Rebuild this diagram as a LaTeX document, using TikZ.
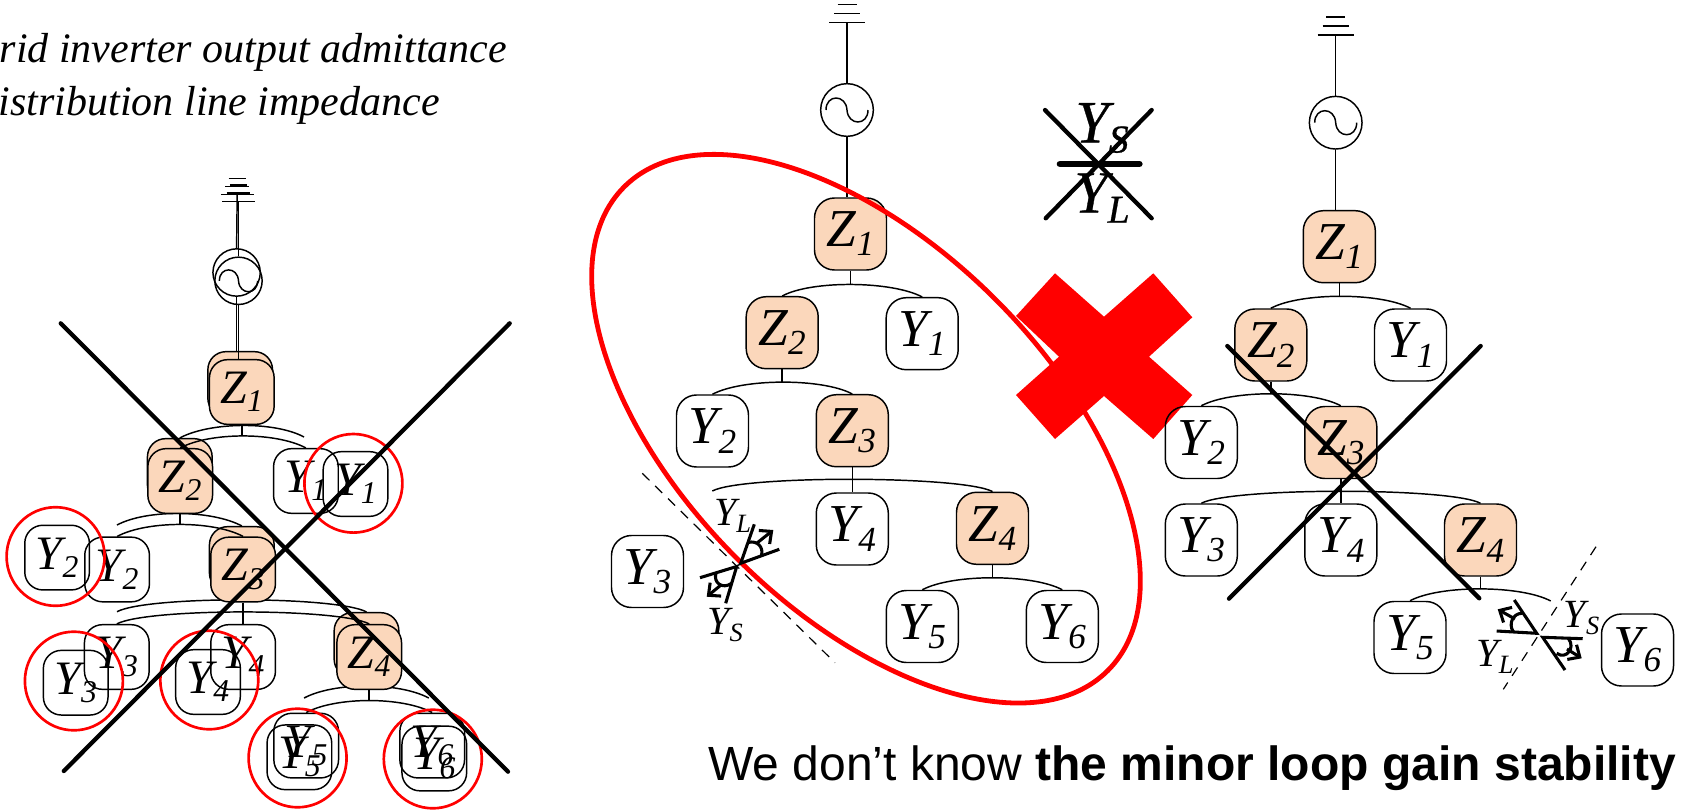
\documentclass[tikz,border=0pt]{standalone}
\usepackage{fontspec}
\setmainfont{Liberation Serif}
\newfontfamily\arialfont{Liberation Sans}
\usetikzlibrary{arrows.meta}
\definecolor{peach}{RGB}{251,215,187}
\definecolor{ringred}{RGB}{255,0,0}
\newcommand{\sbx}[2]{#1\raisebox{-0.17em}{\scalebox{0.66}{#2}}}
\newcommand{\branch}[3]{%
\draw[wire] (#2) .. controls +(30,-16) and +(-30,-16) .. (#3) node[coordinate,midway] (#1m) {};
\draw[wire] (#1.south) -- (#1.south |- #1m);}
\newcommand{\acwave}[2]{%
\begin{scope}[shift={(#1.center)},scale=#2]
\draw[wire] (-21,0) .. controls (-21,-16) and (-1,-16) .. (0,0) .. controls (1,16) and (21,16) .. (21,0);
\end{scope}}
\newcommand{\gnd}[2]{%
\begin{scope}[shift={(#1)},scale=#2]
\draw[wire] (-18,0) -- (18,0);
\draw[wire] (-13,-9) -- (13,-9);
\draw[wire] (-9.5,-18) -- (9.5,-18);
\end{scope}}
\tikzset{
wire/.style={line width=1.1pt},
ybox/.style={draw,line width=1.1pt,rounded corners=15pt,inner sep=0pt,minimum width=54pt,minimum height=54pt,font=\fontsize{40}{40}\selectfont\itshape},
zbox/.style={ybox,fill=peach},
lefttree/.style={minimum width=48.5pt,minimum height=48.5pt,rounded corners=13.5pt,font=\fontsize{36}{36}\selectfont\itshape},
acsrc/.style={draw,wire,circle,inner sep=0pt,minimum size=#1},
crossline/.style={line width=3.2pt,line cap=round},
ring/.style={draw=ringred,line width=2pt},
cutline/.style={line width=.9pt,dash pattern=on 7.5pt off 6pt},
wedge/.style={line width=2.3pt},
tiplabel/.style={font=\fontsize{30}{30}\selectfont\itshape},
headtext/.style={anchor=base east,inner sep=0pt,font=\fontsize{31.5}{31.5}\selectfont\itshape},
biglabel/.style={font=\fontsize{45}{45}\selectfont\itshape\addfontfeatures{FakeBold=0.6}}
}
\begin{document}
\begin{tikzpicture}[x=0.75pt,y=-0.75pt]
\useasboundingbox (0,0) rectangle (1682,811);
\node[headtext] (txtA) at (507.5,62) {rid inverter output admittance};
\node[headtext] (txtB) at (440,115) {istribution line impedance};

% left tree, the copy behind
\node[zbox,lefttree] (aZ1b) at (240.2,384) {};
\node[zbox,lefttree] (aZ2b) at (179.8,471) {};
\node[zbox,lefttree] (aZ3b) at (241.8,559) {};
\node[zbox,lefttree] (aZ4b) at (366.5,645) {};
\coordinate (aY1b) at (304.1,437);
\coordinate (aY2b) at (117,525);
\coordinate (aY3b) at (117,611.7);
\coordinate (aY5b) at (304.1,698);
\coordinate (aY6b) at (428.8,698);
\branch{aZ1b}{aZ2b.north}{aY1b}
\branch{aZ2b}{aY2b}{aZ3b.north}
\branch{aZ3b}{aY3b}{aZ4b.north}
\branch{aZ4b}{aY5b}{aY6b}
\coordinate (aGb) at (237.2,194.7);
\coordinate (aG) at (238.5,201.3);
\gnd{aGb}{0.91}
\gnd{aG}{0.91}
\node[acsrc=35.5pt] (aSb) at (236.6,272.5) {};
\node[acsrc=35.5pt] (aS) at (238.5,280.8) {};
\acwave{aS}{0.91}
\draw[wire] (aGb) -- (aSb.north);
\draw[wire] (aG) -- (aS.north);
\draw[wire] (aSb.south) -- (aSb.south |- aZ1b.north);
% left tree, in front
\node[ybox,lefttree] (aY1) at (305.9,481) {\sbx{Y}{1}};
\node[ybox,lefttree] (aY2) at (117.1,569.5) {\sbx{Y}{2}};
\node[ybox,lefttree] (aY3) at (116.8,657) {\sbx{Y}{3}};
\node[ybox,lefttree] (aY4) at (243.1,657) {\sbx{Y}{4}};
\node[ybox,lefttree] (aY5) at (306.2,745.6) {\sbx{Y}{5}};
\node[ybox,lefttree] (aY6) at (432.2,745.6) {\sbx{Y}{6}};
\node[zbox,lefttree] (aZ1) at (241.8,392) {\sbx{Z}{1}};
\node[zbox,lefttree] (aZ2) at (180.2,481) {\sbx{Z}{2}};
\node[zbox,lefttree] (aZ3) at (243.1,569.5) {\sbx{Z}{3}};
\node[zbox,lefttree] (aZ4) at (369.2,657) {\sbx{Z}{4}};
\draw[wire] (aS.south) -- (aS.south |- aZ1.north);
\branch{aZ1}{aZ2.north}{aY1.north}
\branch{aZ2}{aY2.north}{aZ3.north}
\branch{aZ3}{aY3.north}{aZ4.north}
\branch{aZ4}{aY5.north}{aY6.north}
\draw[wire] (aZ3.south) -- (aY4.north);
% moved out
\node[ybox,lefttree] (aY1o) at (355.5,484) {\sbx{Y}{1}};
\node[ybox,lefttree] (aY2o) at (57.1,557.6) {\sbx{Y}{2}};
\node[ybox,lefttree] (aY3o) at (75.7,682.7) {\sbx{Y}{3}};
\node[ybox,lefttree] (aY4o) at (208,682) {\sbx{Y}{4}};
\node[ybox,lefttree] (aY5o) at (299.4,757.3) {\sbx{Y}{5}};
\node[ybox,lefttree] (aY6o) at (434.3,758.5) {\sbx{Y}{6}};
\foreach \c in {(353.4,483.3),(55.6,556.5),(73.9,681),(209.3,680),(297.6,758),(432.8,759)}
	\draw[ring] \c circle[x radius=49,y radius=49.3];
\draw[crossline] (60.7,323.3) -- (508,771.7);
\draw[crossline] (509.7,323.3) -- (63.8,771);

% middle tree
\coordinate (bG) at (847,22.7);
\gnd{bG}{1}
\node[acsrc=39.5pt] (bS) at (847,110) {};
\acwave{bS}{1}
\node[zbox] (bZ1) at (850.5,234) {\sbx{Z}{1}};
\node[zbox] (bZ2) at (782.2,332.7) {\sbx{Z}{2}};
\node[ybox] (bY1) at (922.2,333.7) {\sbx{Y}{1}};
\node[ybox] (bY2) at (712.5,431) {\sbx{Y}{2}};
\node[zbox] (bZ3) at (852.3,430.7) {\sbx{Z}{3}};
\node[ybox] (bY3) at (647.5,571.5) {\sbx{Y}{3}};
\node[ybox] (bY4) at (852.3,529) {\sbx{Y}{4}};
\node[zbox] (bZ4) at (992.5,528.3) {\sbx{Z}{4}};
\node[ybox] (bY5) at (922.3,626.5) {\sbx{Y}{5}};
\node[ybox] (bY6) at (1062.3,626.5) {\sbx{Y}{6}};
\coordinate (bY3t) at (712.3,491);
\draw[wire] (bG) -- (bS.north);
\draw[wire] (bS.south) -- (bS.south |- bZ1.north);
\branch{bZ1}{bZ2.north}{bY1.north}
\branch{bZ2}{bY2.north}{bZ3.north}
\branch{bZ3}{bY3t}{bZ4.north}
\branch{bZ4}{bY5.north}{bY6.north}
\draw[wire] (bZ3.south) -- (bY4.north);
\draw[cutline] (642.3,473.3) -- (835,662.7);
\draw[ring,line width=3.6pt] (866,428.7) circle[x radius=342,y radius=183,rotate=-45];
\coordinate (bVL) at (740.7,563.3);
\coordinate (bVS) at (736.7,566.5);
\draw[wedge] (754.3,524.3) -- (bVL) -- (779.3,549.3);
\draw[wedge] (748,542.5) .. controls (757,540) and (764,547) .. (761.4,555.8);
\draw[wedge,-{Straight Barb[length=7pt,width=13pt]}] (757,543) -- (773.3,530);
\draw[wedge] (725.7,603.3) -- (bVS) -- (700,577.7);
\draw[wedge] (716,573.3) .. controls (713,582) and (722,590) .. (731.7,583.3);
\draw[wedge,-{Straight Barb[length=7pt,width=13pt]}] (721,585) -- (706.7,596.7);
\node[tiplabel] (bYL) at (732.5,516) {\sbx{Y}{L}};
\node[tiplabel] (bYS) at (725,625) {\sbx{Y}{S}};

% crossed out relation
\node[biglabel] (cYS) at (1102,128) {\sbx{Y}{S}};
\node[biglabel] (cYL) at (1102,198) {\sbx{Y}{L}};
\draw[line width=5pt,line cap=round] (1060,164) -- (1139.3,164);
\draw[crossline] (1045,110) -- (1151.7,218.3);
\draw[crossline] (1151.7,110) -- (1045.7,218.3);
\fill[ringred] (1055,273.3) -- (1104,316.7) -- (1153.3,273.3) -- (1192.3,317.3) -- (1149,356.7)
	-- (1192.3,395) -- (1153.3,439) -- (1104,396) -- (1055,439) -- (1016,395) -- (1059,356.7) -- (1016,316) -- cycle;

% right tree
\coordinate (dG) at (1335.7,35);
\gnd{dG}{1}
\node[acsrc=39.5pt] (dS) at (1335.7,122.7) {};
\acwave{dS}{1}
\node[zbox] (dZ1) at (1339.3,246.7) {\sbx{Z}{1}};
\node[zbox] (dZ2) at (1270.8,345) {\sbx{Z}{2}};
\node[ybox] (dY1) at (1410.5,345) {\sbx{Y}{1}};
\node[ybox] (dY2) at (1201.3,442.5) {\sbx{Y}{2}};
\node[zbox] (dZ3) at (1340.8,442.5) {\sbx{Z}{3}};
\node[ybox] (dY3) at (1201.3,540) {\sbx{Y}{3}};
\node[ybox] (dY4) at (1340.8,540) {\sbx{Y}{4}};
\node[zbox] (dZ4) at (1480.5,540) {\sbx{Z}{4}};
\node[ybox] (dY5) at (1410,637.5) {\sbx{Y}{5}};
\node[ybox] (dY6) at (1637.5,650) {\sbx{Y}{6}};
\coordinate (dY6t) at (1550.7,601);
\draw[wire] (dG) -- (dS.north);
\draw[wire] (dS.south) -- (dS.south |- dZ1.north);
\branch{dZ1}{dZ2.north}{dY1.north}
\branch{dZ2}{dY2.north}{dZ3.north}
\branch{dZ3}{dY3.north}{dZ4.north}
\branch{dZ4}{dY5.north}{dY6t}
\draw[wire] (dZ3.south) -- (dY4.north);
\draw[crossline] (1227.3,346) -- (1479.3,598.3);
\draw[crossline] (1480.7,346) -- (1229,598.7);
\draw[cutline] (1596,546.7) -- (1503.3,689.3);
\coordinate (dVL) at (1536.7,633.3);
\coordinate (dVS) at (1542.7,637.3);
\draw[wedge] (1514.3,600) -- (dVL) -- (1496.7,631);
\draw[wedge] (1522.3,613.3) .. controls (1513,613) and (1508,624) .. (1513.3,631.7);
\draw[wedge,-{Straight Barb[length=7pt,width=13pt]}] (1515,619) -- (1497.7,609.3);
\draw[wedge] (1565,670) -- (dVS) -- (1582.7,638.7);
\draw[wedge] (1556.7,653.3) .. controls (1566,660) and (1576,648) .. (1568.3,638.3);
\draw[wedge,-{Straight Barb[length=7pt,width=13pt]}] (1567,649) -- (1581.7,658.3);
\node[tiplabel] (dYS) at (1581.7,618.3) {\sbx{Y}{S}};
\node[tiplabel] (dYL) at (1495,657) {\sbx{Y}{L}};

\node[anchor=base west,inner sep=0pt,font=\fontsize{36}{36}\selectfont\arialfont] (txtC) at (708,780) {We don’t know \textbf{the minor loop gain stability}};
\end{tikzpicture}
\end{document}
